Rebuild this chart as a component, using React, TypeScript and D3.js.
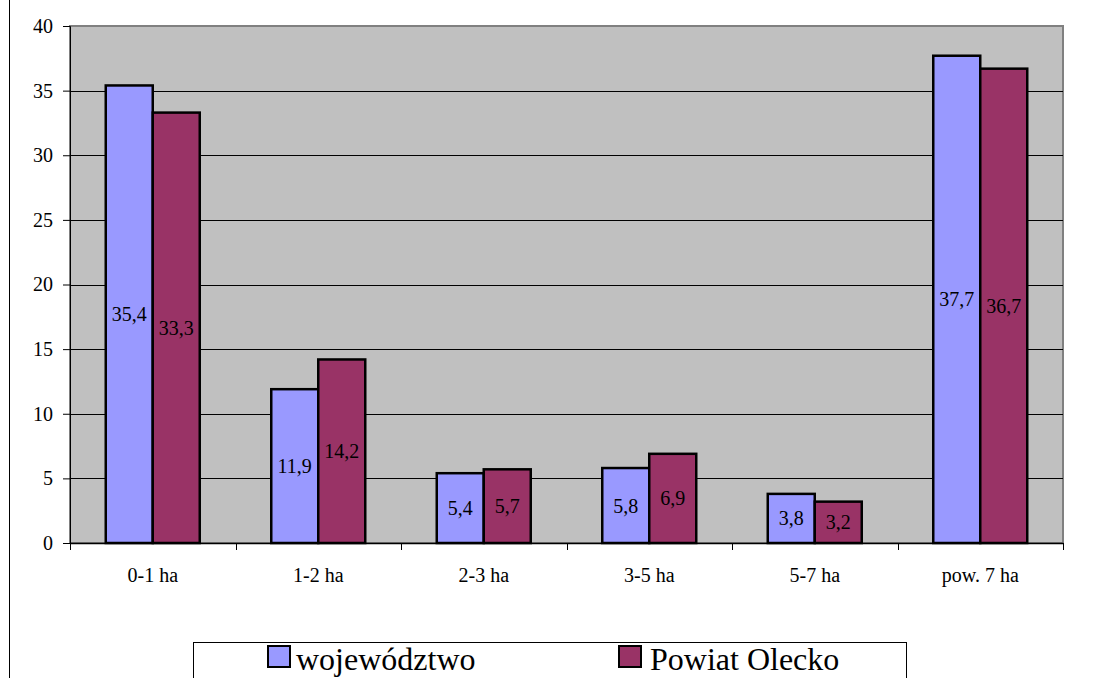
import React, { useEffect, useRef } from 'react';
import * as d3 from 'd3';

// data
const categories = ['0-1 ha', '1-2 ha', '2-3 ha', '3-5 ha', '5-7 ha', 'pow. 7 ha'];
const wojewodztwo = [35.4, 11.9, 5.4, 5.8, 3.8, 37.7];
const powiatOlecko = [33.3, 14.2, 5.7, 6.9, 3.2, 36.7];
const yTicks = [0, 5, 10, 15, 20, 25, 30, 35, 40];
const seriesNames = ['województwo', 'Powiat Olecko'];
const colors = ['#9999FF', '#993366'];

const FONT = '"Liberation Serif", "DejaVu Serif", "Times New Roman", serif';

const App = () => {
  const ref = useRef<SVGSVGElement>(null);

  useEffect(() => {
    const svg = d3.select(ref.current);
    svg.selectAll('*').remove();

    const W = 1114;
    const H = 678;
    const plot = { left: 70, right: 1063, top: 26, bottom: 543 };

    svg.append('rect').attr('width', W).attr('height', H).attr('fill', '#fff');

    // chart border (only left side visible)
    svg.append('line')
      .attr('x1', 9.5).attr('x2', 9.5).attr('y1', 0).attr('y2', H)
      .attr('stroke', '#000').attr('stroke-width', 1);

    const x = d3.scaleBand().domain(categories).range([plot.left, plot.right]);
    const y = d3.scaleLinear().domain([0, 40]).range([plot.bottom, plot.top]);
    const barW = 47;
    const xs = d3.scaleBand().domain(seriesNames).range([0, barW * 2]);

    // plot background
    svg.append('rect')
      .attr('x', plot.left).attr('y', plot.top)
      .attr('width', plot.right - plot.left).attr('height', plot.bottom - plot.top)
      .attr('fill', '#C0C0C0')
      .attr('stroke', '#808080').attr('stroke-width', 2);

    // grid
    svg.append('g').selectAll('line')
      .data(yTicks.filter(d => d > 0 && d < 40))
      .enter().append('line')
      .attr('x1', plot.left).attr('x2', plot.right)
      .attr('y1', d => Math.round(y(d)) + 0.5).attr('y2', d => Math.round(y(d)) + 0.5)
      .attr('stroke', '#000').attr('stroke-width', 1);

    // y axis
    const yAxis = svg.append('g')
      .attr('transform', `translate(${plot.left},0)`)
      .call(d3.axisLeft(y).tickValues(yTicks).tickSize(7).tickPadding(10).tickFormat(d3.format('d')));
    yAxis.attr('font-family', null).attr('font-size', null);
    yAxis.select('.domain').attr('stroke', '#000').attr('stroke-width', 1);
    yAxis.selectAll('text').style('font-family', FONT).style('font-size', '20px').attr('fill', '#000');

    // x axis
    const xAxis = svg.append('g')
      .attr('transform', `translate(0,${plot.bottom})`)
      .call(d3.axisBottom(x).tickSize(0).tickPadding(25));
    xAxis.attr('font-family', null).attr('font-size', null);
    xAxis.select('.domain').attr('stroke', '#000').attr('stroke-width', 1.5);
    xAxis.selectAll('text').style('font-family', FONT).style('font-size', '20px').attr('fill', '#000');
    xAxis.selectAll('.tick line').remove();
    // boundary ticks
    const bounds = categories.map(c => x(c) as number).concat([plot.right]);
    svg.append('g').selectAll('line')
      .data(bounds).enter().append('line')
      .attr('x1', d => Math.round(d) + 0.5).attr('x2', d => Math.round(d) + 0.5)
      .attr('y1', plot.bottom).attr('y2', plot.bottom + 7)
      .attr('stroke', '#000');

    // bars
    const series = [wojewodztwo, powiatOlecko];
    series.forEach((vals, si) => {
      const g = svg.append('g');
      const bx = (i: number) => (x(categories[i]) as number) + x.bandwidth() / 2 - barW + (xs(seriesNames[si]) as number);
      g.selectAll('rect')
        .data(vals).enter().append('rect')
        .attr('x', (_d, i) => bx(i))
        .attr('y', d => y(d))
        .attr('width', barW)
        .attr('height', d => y(0) - y(d))
        .attr('fill', colors[si])
        .attr('stroke', '#000').attr('stroke-width', 2.5);
      g.selectAll('text')
        .data(vals).enter().append('text')
        .attr('x', (_d, i) => bx(i) + barW / 2)
        .attr('y', d => (y(d) + y(0)) / 2)
        .attr('dy', '0.35em')
        .attr('text-anchor', 'middle')
        .style('font-family', FONT).style('font-size', '20px').attr('fill', '#000')
        .text(d => d3.format('.1f')(d).replace('.', ','));
    });

    // legend
    const leg = svg.append('g');
    leg.append('rect')
      .attr('x', 193.5).attr('y', 642.5).attr('width', 713).attr('height', 60)
      .attr('fill', '#fff').attr('stroke', '#000');
    const legX = [268, 619];
    seriesNames.forEach((name, i) => {
      leg.append('rect')
        .attr('x', legX[i]).attr('y', 646).attr('width', 22).attr('height', 21)
        .attr('fill', colors[i]).attr('stroke', '#000').attr('stroke-width', 2);
      leg.append('text')
        .attr('x', legX[i] + 28 + i * 3).attr('y', 670)
        .style('font-family', FONT).style('font-size', '32px').attr('fill', '#000')
        .text(name);
    });
  }, []);

  return (
    <svg ref={ref} width={1114} height={678}
      style={{ position: 'absolute', left: 0, top: 0, display: 'block', fontFamily: FONT }} />
  );
};

export default App;
